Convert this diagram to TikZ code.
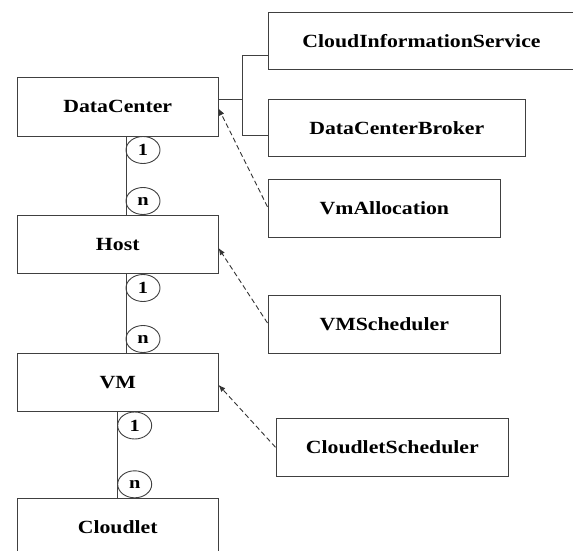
\documentclass[tikz,border=0pt]{standalone}
\usepackage{fontspec}
\usepackage{graphicx}
\setmainfont{Liberation Serif}
\usetikzlibrary{arrows.meta,shapes.geometric}
\newcommand{\bt}[1]{\scalebox{1.17}[1]{#1}}
\newcommand{\mlab}[1]{\scalebox{1.2}[1]{#1}}
\begin{document}
\begin{tikzpicture}[x=1pt,y=-1pt,
  box/.style={draw=black!75,line width=1pt,inner sep=0pt,font=\fontsize{18.6}{20}\selectfont\bfseries},
  mult/.style={draw=black!75,line width=0.9pt,ellipse,inner sep=0pt,minimum width=34pt,minimum height=27pt,font=\fontsize{17}{18}\selectfont\bfseries},
  conn/.style={draw=black!75,line width=1pt},
  dep/.style={draw=black!80,line width=0.9pt,dash pattern=on 5pt off 3pt,-{Latex[length=7pt,width=5.5pt]}}
]
\useasboundingbox (0,0) rectangle (573,551);
\clip (0,0) rectangle (573,551);
% left column
\node[box,minimum width=200.5pt,minimum height=58.3pt] (dc) at (117.75,106.85) {\bt{DataCenter}};
\node[box,minimum width=200.5pt,minimum height=57.6pt] (host) at (117.75,244.5) {\bt{Host}};
\node[box,minimum width=200.5pt,minimum height=58.7pt] (vm) at (117.75,382.35) {\bt{VM}};
\node[box,minimum width=200.5pt,minimum height=58pt] (cl) at (117.75,527.3) {\bt{Cloudlet}};
% right column
\node[box,minimum width=307pt,minimum height=57.7pt] (cis) at (421.5,41.15) {\bt{CloudInformationService}};
\node[box,minimum width=257.6pt,minimum height=57.7pt] (dcb) at (396.8,127.85) {\bt{DataCenterBroker}};
\node[box,minimum width=232.7pt,minimum height=58pt] (vma) at (384.35,208.3) {\bt{VmAllocation}};
\node[box,minimum width=232.5pt,minimum height=58pt] (vms) at (384.25,324) {\bt{VMScheduler}};
\node[box,minimum width=232.7pt,minimum height=58.5pt] (cs) at (392.35,447.25) {\bt{CloudletScheduler}};
% tree connector
\coordinate (jm) at (242,99);
\coordinate (jt) at (242,56);
\coordinate (jb) at (242,135.7);
\draw[conn] (dc.east |- jm) -- (jm);
\draw[conn] (cis.west |- jt) -- (jt) -- (jb) -- (dcb.west |- jb);
% vertical associations
\coordinate (xa) at (126,0);
\coordinate (xb) at (117.7,0);
\draw[conn] (dc.south -| xa) -- (host.north -| xa);
\draw[conn] (host.south -| xa) -- (vm.north -| xa);
\draw[conn] (vm.south -| xb) -- (cl.north -| xb);
% multiplicities
\node[mult] (m1) at (143,150) {\mlab{1}};
\node[mult] (m2) at (143,201) {\mlab{n}};
\node[mult] (m3) at (143,288) {\mlab{1}};
\node[mult] (m4) at (143,339) {\mlab{n}};
\node[mult] (m5) at (134.7,425.5) {\mlab{1}};
\node[mult] (m6) at (134.7,484.3) {\mlab{n}};
% dependencies
\draw[dep] ([yshift=1.5pt]vma.west) -- ([yshift=-1.5pt]dc.east);
\draw[dep] ([yshift=1pt]vms.west) -- ([yshift=-3.5pt]host.east);
\draw[dep] (cs.west) -- ([yshift=-2.5pt]vm.east);
\end{tikzpicture}
\end{document}
